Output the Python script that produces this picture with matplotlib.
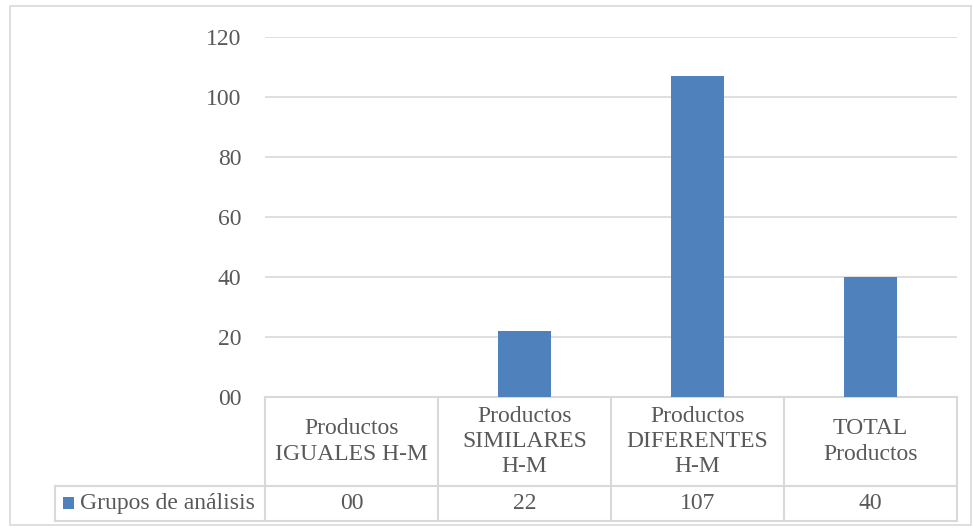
import matplotlib.pyplot as plt
from matplotlib.patches import Rectangle
from matplotlib.transforms import blended_transform_factory

plt.rcParams['font.family'] = ['Liberation Serif', 'DejaVu Serif']

# Datos
categorias = ["Productos\nIGUALES H-M", "Productos\nSIMILARES\nH-M",
              "Productos\nDIFERENTES\nH-M", "TOTAL\nProductos"]
valores = [0, 22, 107, 40]
etiquetas_valores = ["00", "22", "107", "40"]
serie = "Grupos de análisis"
yticks = [0, 20, 40, 60, 80, 100, 120]
ytick_labels = ["00", "20", "40", "60", "80", "100", "120"]

azul = "#4f81bd"
gris = "#d9d9d9"
texto = "#595959"
fs = 17

fig = plt.figure(figsize=(9.73, 5.31), dpi=100)
W, H = 973, 531

# borde exterior del gráfico
fig.patches.append(Rectangle((10 / W, 6 / H), 961 / W, 519 / H, transform=fig.transFigure,
                             fill=False, edgecolor=gris, linewidth=1.2))

ax = fig.add_axes([265 / W, (H - 397) / H, 692 / W, 360 / H])
x = list(range(len(valores)))
ax.bar(x, valores, width=0.31, color=azul, zorder=3)
ax.set_xlim(-0.5, len(valores) - 0.5)
ax.set_ylim(0, 120)
ax.set_yticks(yticks)
ax.set_yticklabels(ytick_labels, fontsize=fs, color=texto)
ax.tick_params(axis='y', length=0, pad=17)
ax.set_xticks([])
ax.grid(axis='y', color=gris, linewidth=1.2, zorder=0)
for s in ax.spines.values():
    s.set_visible(False)

# tabla de datos bajo el eje
tr = blended_transform_factory(ax.transData, ax.transAxes)
y_head = -89 / 360
y_bot = -124 / 360
x_leg = -1.714
n = len(valores)
kw = dict(transform=tr, color=gris, linewidth=1.5, clip_on=False)
ax.plot([-0.5, n - 0.5], [0, 0], **kw)
ax.plot([x_leg, n - 0.5], [y_head, y_head], **kw)
ax.plot([x_leg, n - 0.5], [y_bot, y_bot], **kw)
ax.plot([x_leg, x_leg], [y_head, y_bot], **kw)
for i in range(n + 1):
    ax.plot([i - 0.5, i - 0.5], [0, y_bot], **kw)

for i, cat in enumerate(categorias):
    ax.text(i, y_head / 2, cat, transform=tr, ha='center', va='center',
            fontsize=fs, color=texto, linespacing=1.25, clip_on=False)
    ax.text(i, (y_head + y_bot) / 2, etiquetas_valores[i], transform=tr, ha='center',
            va='center', fontsize=fs, color=texto, clip_on=False)

y_mid = (y_head + y_bot) / 2
ax.add_patch(Rectangle((x_leg + 0.046, y_mid - 0.015), 0.066, 0.032, transform=tr,
                       facecolor=azul, edgecolor='none', clip_on=False))
ax.text(x_leg + 0.145, y_mid, serie, transform=tr, ha='left', va='center',
        fontsize=fs, color=texto, clip_on=False)

plt.savefig("out.png", dpi=100)
